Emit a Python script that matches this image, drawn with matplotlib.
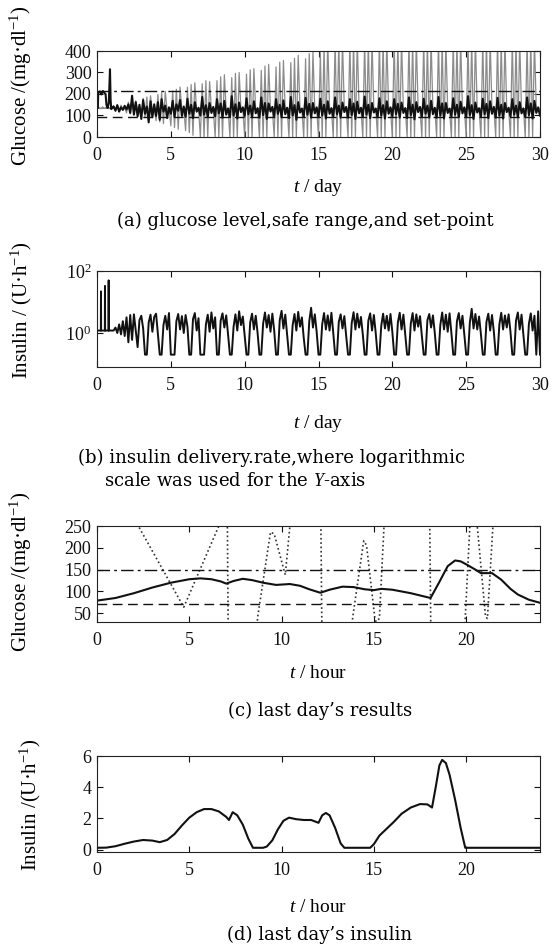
import numpy as np
import matplotlib
matplotlib.use("Agg")
import matplotlib.pyplot as plt
from matplotlib.ticker import FixedLocator, NullLocator, FixedFormatter

plt.rcParams['font.family'] = ['Liberation Serif', 'DejaVu Serif']
plt.rcParams['mathtext.fontset'] = 'custom'
plt.rcParams['mathtext.rm'] = 'Liberation Serif'
plt.rcParams['mathtext.it'] = 'Liberation Serif:italic'
plt.rcParams['mathtext.bf'] = 'Liberation Serif:bold'

# ---------------- data ----------------
# (a) glucose over 30 days (mg/dl); controlled (black) and uncontrolled (gray)
black0_t = [0.0, 0.06, 0.08, 0.2, 0.3, 0.4, 0.5, 0.58, 0.64, 0.72, 0.8, 0.85, 0.88, 0.92, 0.96]
black0_v = [135, 135, 205, 212, 198, 214, 205, 200, 150, 135, 160, 260, 315, 175, 130]
black_days = [  # days 1..29, 8 samples per day
    [135, 142, 122, 148, 118, 138, 126, 145],
    [128, 152, 112, 192, 104, 162, 96, 150],
    [84, 172, 108, 142, 68, 166, 92, 152],
    [98, 162, 80, 176, 118, 146, 88, 138],
    [108, 168, 94, 152, 122, 172, 98, 142],
    [94, 178, 108, 150, 88, 162, 118, 136],
    [100, 186, 104, 148, 94, 158, 112, 140],
    [96, 176, 110, 156, 90, 168, 104, 132],
    [92, 190, 100, 152, 86, 160, 116, 138],
    [98, 180, 106, 146, 92, 166, 110, 134],
    [90, 184, 102, 158, 84, 156, 118, 140],
    [96, 176, 108, 150, 92, 170, 106, 136],
    [88, 186, 100, 148, 80, 162, 114, 132],
    [94, 182, 104, 154, 90, 158, 110, 138],
    [92, 178, 100, 150, 86, 166, 108, 134],
    [96, 184, 106, 146, 90, 160, 116, 140],
    [90, 176, 102, 156, 84, 164, 110, 136],
    [94, 188, 104, 150, 88, 158, 114, 132],
    [92, 180, 100, 148, 86, 166, 108, 138],
    [96, 176, 106, 154, 90, 160, 112, 134],
    [88, 184, 102, 150, 82, 162, 116, 140],
    [94, 178, 108, 146, 90, 168, 106, 136],
    [90, 186, 100, 156, 86, 158, 112, 132],
    [96, 180, 104, 150, 92, 164, 110, 138],
    [92, 190, 102, 148, 84, 160, 114, 134],
    [94, 178, 106, 154, 88, 166, 108, 140],
    [90, 182, 100, 150, 86, 158, 116, 136],
    [96, 176, 104, 146, 92, 162, 110, 132],
    [92, 184, 102, 156, 86, 168, 112, 138],
]
black_end = 100

gray_days = [  # days 0..29, 8 samples per day
    [135, 138, 132, 140, 134, 138, 135, 136],
    [128, 146, 124, 150, 120, 148, 130, 134],
    [112, 162, 108, 172, 104, 168, 126, 132],
    [96, 180, 90, 186, 86, 192, 124, 134],
    [76, 198, 70, 206, 62, 212, 122, 136],
    [52, 214, 44, 222, 36, 232, 124, 132],
    [30, 232, 20, 244, 8, 252, 120, 134],
    [0, 248, 0, 262, 0, 258, 126, 130],
    [0, 262, 0, 280, 0, 290, 122, 136],
    [0, 276, 0, 296, 0, 300, 124, 132],
    [0, 292, 0, 312, 0, 318, 120, 134],
    [0, 310, 0, 330, 0, 338, 126, 130],
    [0, 326, 0, 348, 0, 356, 122, 136],
    [0, 346, 0, 366, 0, 380, 124, 132],
    [0, 364, 0, 388, 0, 398, 120, 134],
    [0, 392, 0, 420, 0, 450, 126, 130],
    [0, 450, 0, 450, 0, 450, 122, 136],
    [0, 450, 0, 450, 0, 450, 124, 132],
    [0, 450, 0, 450, 0, 450, 120, 134],
    [0, 450, 0, 450, 0, 450, 126, 130],
    [0, 450, 0, 450, 0, 450, 122, 136],
    [0, 450, 0, 450, 0, 450, 124, 132],
    [0, 450, 0, 450, 0, 450, 120, 134],
    [0, 450, 0, 450, 0, 450, 126, 130],
    [0, 450, 0, 450, 0, 450, 122, 136],
    [0, 450, 0, 450, 0, 450, 124, 132],
    [0, 450, 0, 450, 0, 450, 120, 134],
    [0, 450, 0, 450, 0, 450, 126, 130],
    [0, 450, 0, 450, 0, 450, 122, 136],
    [0, 450, 0, 450, 0, 450, 124, 132],
]
gray_end = 130

glu_high_a = 215   # dash-dot
glu_low_a = 93     # dashed
glu_setpoint_a = 135

# (b) insulin delivery rate over 30 days (U/h), log axis
ins0_t = [0.0, 0.26, 0.27, 0.28, 0.53, 0.54, 0.55, 0.78, 0.79, 0.80, 0.95]
ins0_v = [1.2, 1.2, 22, 1.2, 1.2, 33, 1.2, 1.2, 50, 1.2, 1.2]
ins_days = [  # days 1..29, 8 samples per day
    [1.2, 1.2, 1.5, 1.0, 1.9, 0.9, 2.4, 0.8],
    [3.2, 0.5, 3.8, 0.6, 4.0, 1.2, 0.35, 2.6],
    [3.6, 1.4, 0.2, 0.2, 2.2, 3.9, 1.1, 3.3],
    [4.2, 0.9, 0.2, 0.2, 1.8, 3.6, 1.3, 4.4],
    [0.2, 0.2, 0.2, 2.4, 4.1, 1.3, 3.5, 1.0],
    [3.8, 1.6, 0.2, 0.2, 2.8, 4.4, 1.2, 3.0],
    [0.2, 0.2, 0.2, 1.9, 3.9, 1.1, 4.6, 1.4],
    [3.2, 0.2, 0.2, 2.5, 4.3, 1.5, 3.7, 0.9],
    [0.2, 0.2, 1.6, 4.0, 1.2, 5.0, 1.8, 3.4],
    [0.8, 0.2, 0.2, 2.2, 4.2, 1.3, 3.6, 1.0],
    [0.2, 0.2, 2.0, 4.6, 1.5, 3.8, 1.1, 4.2],
    [1.2, 0.2, 0.2, 2.6, 5.2, 1.4, 3.9, 0.9],
    [0.2, 0.2, 1.8, 4.1, 1.2, 4.8, 1.6, 3.2],
    [0.7, 0.2, 0.2, 2.4, 6.5, 1.5, 4.0, 1.1],
    [0.2, 0.2, 1.9, 4.4, 1.3, 3.7, 1.2, 4.5],
    [1.0, 0.2, 0.2, 2.3, 4.0, 1.4, 3.5, 0.8],
    [0.2, 0.2, 2.1, 4.7, 1.3, 4.2, 1.5, 3.3],
    [0.9, 0.2, 0.2, 2.5, 4.3, 1.2, 3.8, 1.0],
    [0.2, 0.2, 1.7, 4.2, 1.4, 3.6, 1.2, 4.1],
    [1.1, 0.2, 0.2, 2.2, 4.5, 1.3, 3.9, 0.9],
    [0.2, 0.2, 2.0, 4.4, 1.2, 4.0, 1.6, 3.5],
    [0.8, 0.2, 0.2, 2.6, 4.1, 1.5, 3.7, 1.0],
    [0.2, 0.2, 1.8, 4.6, 1.3, 3.9, 1.1, 4.3],
    [1.0, 0.2, 0.2, 2.4, 4.4, 1.4, 3.6, 0.9],
    [0.2, 0.2, 2.2, 6.0, 1.4, 4.1, 1.3, 3.4],
    [0.9, 0.2, 0.2, 2.3, 4.2, 1.2, 3.8, 1.1],
    [0.2, 0.2, 1.9, 4.5, 1.3, 3.7, 1.5, 4.0],
    [1.1, 0.2, 0.2, 2.5, 4.6, 1.3, 3.9, 0.9],
    [0.2, 0.2, 2.0, 4.3, 1.2, 3.6, 0.2, 5.0],
]
ins_end = 0.2

# (c) last day glucose (mg/dl) vs hour
c_t = [0, 1, 2, 3, 4, 5, 5.6, 6.2, 6.7, 7.0, 7.4, 7.9, 8.4, 9.0, 9.7, 10.45, 11.0, 11.5,
       12.1, 12.6, 13.3, 13.9, 14.5, 15.0, 15.4, 16.0, 17.0, 18.07, 18.5, 19.0, 19.4,
       19.7, 20.05, 20.5, 20.8, 21.4, 21.9, 22.4, 22.8, 23.4, 24]
c_g = [79, 85, 96, 109, 120, 128, 130, 128, 123, 118, 124, 129, 126, 120, 115, 117, 113, 105,
       97, 104, 111, 110, 105, 103, 106, 104, 96, 85, 118, 158, 171, 169, 161, 150, 142, 142,
       127, 106, 93, 81, 74]
c_open_t = [0, 2.24, 4.7, 6.6, 7.0, 7.05, 7.12, 8.6, 8.7, 9.4, 9.6, 10.2, 10.45, 10.7, 12.1,
            12.2, 13.75, 13.85, 14.45, 14.6, 15.05, 15.15, 15.3, 15.55, 15.8, 18.0, 18.1,
            19.85, 19.95, 20.2, 20.35, 20.6, 21.05, 21.15, 21.45, 21.7, 24]
c_open_g = [420, 250, 64, 250, 320, 330, -60, -40, 40, 236, 232, 138, 250, 360, 380,
            -60, -40, 40, 216, 206, 40, 25, 40, 250, 380, 380, -60,
            -40, 40, 250, 300, 250, 42, 38, 250, 400, 420]
glu_high_c = 150
glu_low_c = 72

# (d) last day insulin (U/h) vs hour
d_t = [0, 0.5, 1, 1.5, 2, 2.5, 3, 3.4, 3.8, 4.2, 4.6, 5, 5.4, 5.8, 6.2, 6.6, 7.0, 7.15, 7.35,
       7.6, 7.9, 8.2, 8.45, 9.0, 9.2, 9.5, 9.8, 10.1, 10.4, 10.8, 11.2, 11.6, 12.0, 12.2, 12.4,
       12.6, 12.9, 13.2, 13.4, 14.8, 15.0, 15.3, 15.7, 16.1, 16.5, 17.0, 17.5, 17.9, 18.15,
       18.35, 18.55, 18.7, 18.9, 19.1, 19.4, 19.7, 19.95, 24]
d_v = [0.12, 0.13, 0.22, 0.38, 0.52, 0.62, 0.58, 0.48, 0.62, 1.0, 1.55, 2.05, 2.4, 2.6, 2.6,
       2.45, 2.1, 1.9, 2.4, 2.2, 1.6, 0.7, 0.12, 0.12, 0.2, 0.6, 1.3, 1.85, 2.05, 1.95, 1.9,
       1.9, 1.72, 2.2, 2.35, 2.2, 1.4, 0.4, 0.12, 0.12, 0.35, 0.9, 1.35, 1.8, 2.3, 2.7, 2.92,
       2.9, 2.7, 4.0, 5.4, 5.75, 5.55, 4.8, 3.2, 1.4, 0.12, 0.12]

# ---------------- series assembly ----------------
SPD = 8
black_flat = np.asarray(black_days, float).ravel()
black_t = np.concatenate([black0_t, 1 + np.arange(black_flat.size + 1) / SPD])
black_v = np.concatenate([black0_v, black_flat, [black_end]])
gray_flat = np.asarray(gray_days, float).ravel()
gray_t = np.arange(gray_flat.size + 1) / SPD
gray_v = np.concatenate([gray_flat, [gray_end]])
ins_flat = np.asarray(ins_days, float).ravel()
ins_t = np.concatenate([ins0_t, 1 + np.arange(ins_flat.size + 1) / SPD])
ins_v = np.concatenate([ins0_v, ins_flat, [ins_end]])

# ---------------- figure ----------------
W, H = 558, 946
fig = plt.figure(figsize=(W / 100, H / 100), dpi=100)


def rect(l, t, r, b):
    return [l / W, 1 - b / H, (r - l) / W, (b - t) / H]


def ftext(x, y, s, **kw):
    fig.text(x / W, 1 - y / H, s, **kw)


def style(ax):
    ax.tick_params(direction='in', top=True, right=True, length=4, width=0.8,
                   labelsize=13, colors='#111111')
    ax.tick_params(axis='x', pad=7)
    ax.tick_params(axis='y', pad=4)
    for s in ax.spines.values():
        s.set_linewidth(0.8)
        s.set_color('#222222')


LBL = 15
XL = 14
CAP = dict(fontsize=13, family=['DejaVu Serif'])

# (a)
ax = fig.add_axes(rect(97, 51, 540, 137))
ax.plot(gray_t, gray_v, color='#8c8c8c', lw=0.9)
ax.axhline(glu_setpoint_a, color='#8a8a8a', lw=0.8)
ax.plot(black_t, black_v, color='#111111', lw=1.5)
ax.axhline(glu_high_a, color='#111111', lw=1.0, ls=(0, (9, 3, 2, 3)))
ax.axhline(glu_low_a, color='#111111', lw=1.0, ls=(0, (7, 4)))
ax.set_xlim(0, 30)
ax.set_ylim(0, 400)
ax.set_xticks(range(0, 31, 5))
ax.set_yticks(range(0, 401, 100))
style(ax)
ftext(21, 86, 'Glucose /(mg·dl$^{-1}$)', rotation=90, ha='center', va='center', fontsize=LBL)
ftext(318, 187, '$t$ / day', ha='center', va='center', fontsize=XL)
ftext(305, 221, '(a) glucose level,safe range,and set-point', ha='center', va='center', **CAP)

# (b)
ax = fig.add_axes(rect(97, 271, 540, 367))
ax.plot(ins_t, ins_v, color='#111111', lw=1.4)
ax.set_yscale('log')
ax.set_xlim(0, 30)
ax.set_ylim(0.08, 100)
ax.set_xticks(range(0, 31, 5))
ax.yaxis.set_major_locator(FixedLocator([1, 100]))
ax.yaxis.set_major_formatter(FixedFormatter(['$10^{0}$', '$10^{2}$']))
ax.yaxis.set_minor_locator(NullLocator())
style(ax)
ftext(21, 310, 'Insulin / (U·h$^{-1}$)', rotation=90, ha='center', va='center', fontsize=LBL)
ftext(318, 424, '$t$ / day', ha='center', va='center', fontsize=XL)
ftext(78, 458, '(b) insulin delivery.rate,where logarithmic', ha='left', va='center', **CAP)
ftext(104, 481, 'scale was used for the $Y$-axis', ha='left', va='center', **CAP)

# (c)
ax = fig.add_axes(rect(97, 526, 540, 622))
ax.plot(c_open_t, c_open_g, color='#333333', lw=1.2, ls=(0, (1, 1.6)))
ax.plot(c_t, c_g, color='#111111', lw=1.5)
ax.axhline(glu_high_c, color='#111111', lw=1.0, ls=(0, (9, 3, 2, 3)))
ax.axhline(glu_low_c, color='#111111', lw=1.0, ls=(0, (7, 4)))
ax.set_xlim(0, 24)
ax.set_ylim(30, 250)
ax.set_xticks(range(0, 21, 5))
ax.set_yticks(range(50, 251, 50))
style(ax)
ftext(21, 572, 'Glucose /(mg·dl$^{-1}$)', rotation=90, ha='center', va='center', fontsize=LBL)
ftext(318, 673, '$t$ / hour', ha='center', va='center', fontsize=XL)
ftext(320, 711, '(c) last day’s results', ha='center', va='center', **CAP)

# (d)
ax = fig.add_axes(rect(97, 756, 540, 852))
ax.plot(d_t, d_v, color='#111111', lw=1.5)
ax.set_xlim(0, 24)
ax.set_ylim(-0.15, 6)
ax.set_xticks(range(0, 21, 5))
ax.set_yticks(range(0, 7, 2))
style(ax)
ftext(30, 805, 'Insulin /(U·h$^{-1}$)', rotation=90, ha='center', va='center', fontsize=LBL)
ftext(318, 907, '$t$ / hour', ha='center', va='center', fontsize=XL)
ftext(320, 935, '(d) last day’s insulin', ha='center', va='center', **CAP)

fig.savefig('out.png', dpi=100, facecolor='white')
